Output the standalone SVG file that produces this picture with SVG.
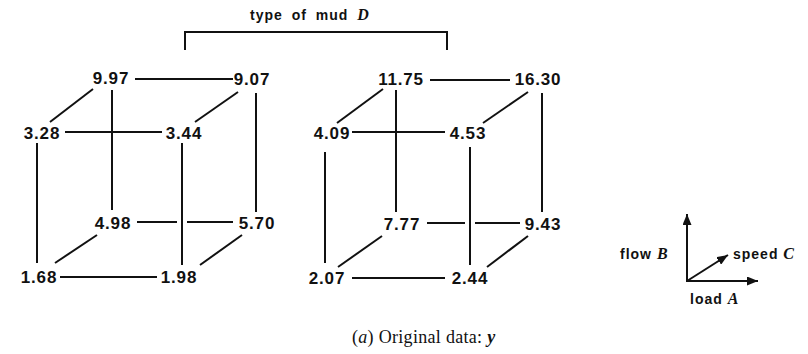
<svg xmlns="http://www.w3.org/2000/svg" width="808" height="354" viewBox="0 0 808 354">
<style>
.n{font-family:"Liberation Sans",Arial,sans-serif;font-weight:bold;font-size:17px;letter-spacing:0.8px;fill:#111;text-anchor:middle}
.e{stroke:#111;stroke-width:2;fill:none}
.lg{font-family:"Liberation Sans",Arial,sans-serif;font-weight:bold;font-size:14px;letter-spacing:1px;fill:#111}
.it{font-family:"Liberation Serif","Times New Roman",serif;font-weight:bold;font-style:italic;font-size:16px;fill:#111;letter-spacing:0}
.cap{font-family:"Liberation Serif","Times New Roman",serif;font-size:18px;letter-spacing:0.3px;fill:#111}
</style>
<defs>
<marker id="ah" markerUnits="userSpaceOnUse" markerWidth="11" markerHeight="9" refX="11" refY="4.5" orient="auto">
<path d="M0,0 L11,4.5 L0,9 z" fill="#111"/>
</marker>
</defs>
<rect width="808" height="354" fill="#fff"/>

<g id="header">
<path class="e" d="M185,50 V32 H447 V50"/>
<text x="250" y="20" class="lg" style="word-spacing:4px">type of mud <tspan class="it">D</tspan></text>
</g>

<g id="connectors">
<!-- left cube -->
<line class="e" x1="135" y1="79" x2="233" y2="79"/>
<line class="e" x1="65" y1="132" x2="162" y2="132"/>
<line class="e" x1="93" y1="89" x2="50" y2="122"/>
<line class="e" x1="238" y1="92" x2="195" y2="122"/>
<line class="e" x1="112" y1="90" x2="112" y2="210"/>
<line class="e" x1="256" y1="93" x2="256" y2="212"/>
<line class="e" x1="37" y1="143" x2="37" y2="263"/>
<line class="e" x1="182" y1="143" x2="182" y2="265"/>
<line class="e" x1="137" y1="222" x2="177" y2="222"/>
<line class="e" x1="187" y1="222" x2="233" y2="222"/>
<line class="e" x1="60" y1="277" x2="157" y2="277"/>
<line class="e" x1="97" y1="235" x2="55" y2="263"/>
<line class="e" x1="242" y1="235" x2="200" y2="265"/>
<!-- right cube -->
<line class="e" x1="430" y1="80" x2="510" y2="80"/>
<line class="e" x1="352" y1="132" x2="445" y2="132"/>
<line class="e" x1="383" y1="89" x2="337" y2="123"/>
<line class="e" x1="528" y1="92" x2="483" y2="123"/>
<line class="e" x1="396" y1="90" x2="396" y2="212"/>
<line class="e" x1="542" y1="93" x2="542" y2="212"/>
<line class="e" x1="325" y1="152" x2="325" y2="263"/>
<line class="e" x1="470" y1="147" x2="470" y2="265"/>
<line class="e" x1="427" y1="223" x2="465" y2="223"/>
<line class="e" x1="475" y1="223" x2="520" y2="223"/>
<line class="e" x1="352" y1="278" x2="445" y2="278"/>
<line class="e" x1="382" y1="236" x2="338" y2="267"/>
<line class="e" x1="528" y1="236" x2="487" y2="267"/>
</g>

<g id="n997"><text class="n" x="111" y="84">9.97</text></g>
<g id="n907"><text class="n" x="252" y="85">9.07</text></g>
<g id="n328"><text class="n" x="42" y="139">3.28</text></g>
<g id="n344"><text class="n" x="184" y="139">3.44</text></g>
<g id="n498"><text class="n" x="113" y="229">4.98</text></g>
<g id="n570"><text class="n" x="257" y="229">5.70</text></g>
<g id="n168"><text class="n" x="39" y="283">1.68</text></g>
<g id="n198"><text class="n" x="179" y="283">1.98</text></g>

<g id="n1175"><text class="n" x="401" y="85">11.75</text></g>
<g id="n1630"><text class="n" x="538" y="85">16.30</text></g>
<g id="n409"><text class="n" x="332" y="139">4.09</text></g>
<g id="n453"><text class="n" x="468" y="139">4.53</text></g>
<g id="n777"><text class="n" x="402" y="230">7.77</text></g>
<g id="n943"><text class="n" x="543" y="230">9.43</text></g>
<g id="n207"><text class="n" x="327" y="284">2.07</text></g>
<g id="n244"><text class="n" x="470" y="284">2.44</text></g>

<g id="legend">
<line class="e" x1="687" y1="281" x2="687" y2="214" marker-end="url(#ah)"/>
<line class="e" x1="686" y1="281" x2="758" y2="281" marker-end="url(#ah)"/>
<line class="e" x1="687" y1="281" x2="728" y2="255" marker-end="url(#ah)"/>
<text class="lg" x="620" y="259">flow <tspan class="it">B</tspan></text>
<text class="lg" x="733" y="259">speed <tspan class="it">C</tspan></text>
<text class="lg" x="690" y="304">load <tspan class="it">A</tspan></text>
</g>

<g id="caption">
<text class="cap" x="352" y="343">(<tspan font-style="italic">a</tspan>) Original data: <tspan font-style="italic" font-weight="bold">y</tspan></text>
</g>
</svg>
